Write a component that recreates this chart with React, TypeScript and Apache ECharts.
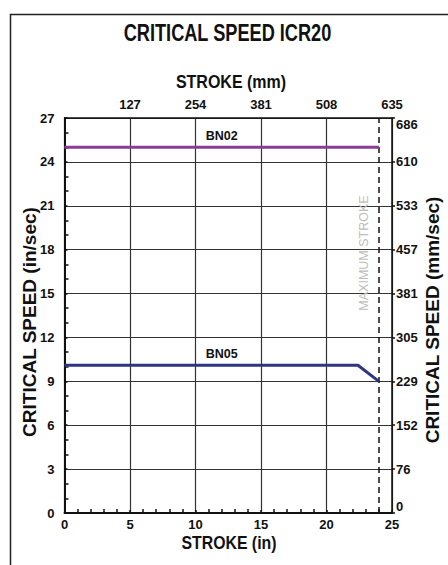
import React, { useEffect, useRef } from "react";
import * as echarts from "echarts";

const chartTitle = "CRITICAL SPEED ICR20";
const xNameTop = "STROKE (mm)";
const xNameBottom = "STROKE (in)";
const yNameLeft = "CRITICAL SPEED (in/sec)";
const yNameRight = "CRITICAL SPEED (mm/sec)";
const strokeMmLabels = ["", "127", "254", "381", "508", "635"];
const speedMmLabels = ["0", "76", "152", "229", "305", "381", "457", "533", "610", "686"];
const bn02Data: [number, number][] = [[0, 25], [24, 25]];
const bn05Data: [number, number][] = [[0, 10.1], [22.4, 10.1], [24, 9]];
const bn02LabelAt: [number, number] = [12, 25];
const bn05LabelAt: [number, number] = [12, 10.1];
const maxStroke = 24;

const FONT = '"Liberation Sans", Arial, sans-serif';
const INK = "#111";
const GRID = "#333";

function nameText(text: string, x: number, y: number, size: number, scale: number, rot = 0) {
  return {
    type: "text",
    x,
    y,
    rotation: rot,
    scaleX: scale,
    silent: true,
    z: 10,
    style: {
      text,
      fontFamily: FONT,
      fontWeight: "bold",
      fontSize: size,
      fill: INK,
      align: "center",
      verticalAlign: "middle",
    },
  };
}

export default function App() {
  const ref = useRef<HTMLDivElement>(null);
  useEffect(() => {
    if (!ref.current) return;
    const chart = echarts.init(ref.current, undefined, { renderer: "svg" });
    const lbl = { fontFamily: FONT, fontWeight: "bold" as const, fontSize: 13, color: INK };
    chart.setOption({
      animation: false,
      backgroundColor: "#fff",
      graphic: [
        {
          type: "rect",
          left: 8,
          top: 12,
          shape: { width: 460, height: 600 },
          style: { fill: "none", stroke: "#222", lineWidth: 1.5 },
          silent: true,
        },
        nameText(chartTitle, 227.5, 33, 23, 0.79),
        nameText(xNameTop, 231, 82, 18, 0.89),
        nameText(xNameBottom, 229, 543, 18, 0.88),
        nameText(yNameLeft, 29, 322, 19, 1.0, Math.PI / 2),
        nameText(yNameRight, 432, 320, 19, 1.0, Math.PI / 2),
        {
          type: "text",
          x: 364,
          y: 253,
          rotation: Math.PI / 2,
          silent: true,
          z: 10,
          style: {
            text: "MAXIMUM STROKE",
            fontFamily: FONT,
            fontSize: 12.5,
            fill: "#bdbdbd",
            align: "center",
            verticalAlign: "middle",
          },
        },
      ],
      grid: { left: 64.5, right: 56, top: 118, bottom: 52, containLabel: false },
      xAxis: [
        {
          type: "value",
          position: "bottom",
          min: 0,
          max: 25,
          interval: 5,
          axisLine: { show: true, onZero: false, lineStyle: { color: INK, width: 2 } },
          axisTick: { show: true, inside: true, length: 3, lineStyle: { color: INK, width: 1.5 } },
          minorTick: { show: true, splitNumber: 5, length: 4, lineStyle: { color: INK, width: 1.5 } },
          splitLine: { show: true, lineStyle: { color: GRID, width: 1.2 } },
          axisLabel: { ...lbl, margin: 5 },
        },
        {
          type: "value",
          position: "top",
          min: 0,
          max: 25,
          interval: 5,
          axisLine: { show: true, onZero: false, lineStyle: { color: INK, width: 1.5 } },
          axisTick: { show: false },
          splitLine: { show: false },
          axisLabel: {
            ...lbl,
            margin: 7,
            formatter: (v: number) => strokeMmLabels[Math.round(v / 5)] ?? "",
          },
        },
      ],
      yAxis: [
        {
          type: "value",
          position: "left",
          min: 0,
          max: 27,
          interval: 3,
          axisLine: { show: true, onZero: false, lineStyle: { color: INK, width: 2 } },
          axisTick: { show: true, inside: true, length: 3, lineStyle: { color: INK, width: 1.5 } },
          minorTick: { show: true, splitNumber: 3, length: 4, lineStyle: { color: INK, width: 1.5 } },
          splitLine: { show: true, lineStyle: { color: GRID, width: 1.2 } },
          axisLabel: { ...lbl, margin: 10 },
        },
        {
          type: "value",
          position: "right",
          min: 0,
          max: 27,
          interval: 3,
          axisLine: { show: true, onZero: false, lineStyle: { color: INK, width: 1.5 } },
          axisTick: { show: true, inside: false, length: 3, lineStyle: { color: INK, width: 1.5 } },
          splitLine: { show: false },
          axisLabel: {
            ...lbl,
            margin: 4,
            verticalAlignMinLabel: "bottom",
            verticalAlignMaxLabel: "top",
            formatter: (v: number) => speedMmLabels[Math.round(v / 3)] ?? "",
          },
        },
      ],
      series: [
        {
          name: "BN02",
          type: "line",
          xAxisIndex: 0,
          yAxisIndex: 0,
          data: bn02Data,
          showSymbol: false,
          symbol: "none",
          lineStyle: { color: "#8d3b94", width: 3 },
          z: 5,
          markPoint: {
            symbol: "circle",
            symbolSize: 0,
            data: [{ coord: bn02LabelAt, value: "BN02" }],
            label: { show: true, position: "top", distance: 5, formatter: "BN02", ...lbl, fontSize: 12.5 },
          },
        },
        {
          name: "BN05",
          type: "line",
          xAxisIndex: 0,
          yAxisIndex: 0,
          data: bn05Data,
          showSymbol: false,
          symbol: "none",
          lineStyle: { color: "#2d3585", width: 3 },
          z: 5,
          markPoint: {
            symbol: "circle",
            symbolSize: 0,
            data: [{ coord: bn05LabelAt, value: "BN05" }],
            label: { show: true, position: "top", distance: 5, formatter: "BN05", ...lbl, fontSize: 12.5 },
          },
          markLine: {
            silent: true,
            symbol: "none",
            label: { show: false },
            lineStyle: { color: INK, type: [6, 4], width: 1.5 },
            data: [{ xAxis: maxStroke }],
          },
        },
      ],
    });
    return () => chart.dispose();
  }, []);
  return (
    <div
      ref={ref}
      style={{ position: "absolute", left: 0, top: 0, width: 448, height: 565 }}
    />
  );
}
